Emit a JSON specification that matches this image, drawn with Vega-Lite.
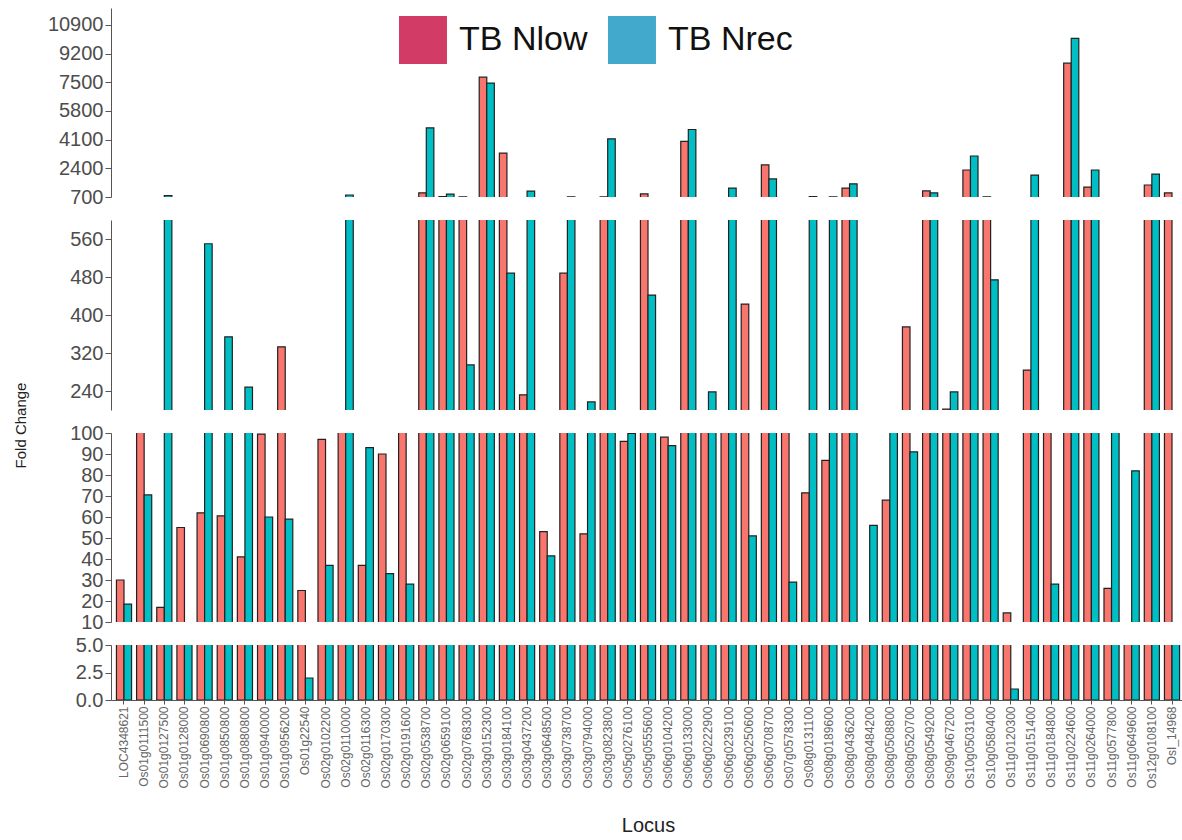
{
  "$schema": "https://vega.github.io/schema/vega-lite/v6.json",
  "padding": {"left": 13, "top": 8, "right": 0, "bottom": 5},
  "spacing": 23,
  "bounds": "flush",
  "config": {
    "view": {"stroke": null},
    "font": "Liberation Sans",
    "axis": {"grid": false, "domainColor": "#555555", "tickColor": "#555555", "labelColor": "#4D4D4D", "labelFont": "Liberation Sans", "titleFont": "Liberation Sans"}
  },
  "data": {"values": [
    {"locus": "LOC4348621", "group": "TB Nlow", "value": 30}, {"locus": "LOC4348621", "group": "TB Nrec", "value": 18.5},
    {"locus": "Os01g0111500", "group": "TB Nlow", "value": 150}, {"locus": "Os01g0111500", "group": "TB Nrec", "value": 70.5},
    {"locus": "Os01g0127500", "group": "TB Nlow", "value": 17}, {"locus": "Os01g0127500", "group": "TB Nrec", "value": 780},
    {"locus": "Os01g0128000", "group": "TB Nlow", "value": 55}, {"locus": "Os01g0128000", "group": "TB Nrec", "value": 7},
    {"locus": "Os01g0690800", "group": "TB Nlow", "value": 62}, {"locus": "Os01g0690800", "group": "TB Nrec", "value": 550},
    {"locus": "Os01g0850800", "group": "TB Nlow", "value": 60.5}, {"locus": "Os01g0850800", "group": "TB Nrec", "value": 354},
    {"locus": "Os01g0880800", "group": "TB Nlow", "value": 41}, {"locus": "Os01g0880800", "group": "TB Nrec", "value": 248},
    {"locus": "Os01g0940000", "group": "TB Nlow", "value": 99.5}, {"locus": "Os01g0940000", "group": "TB Nrec", "value": 60},
    {"locus": "Os01g0956200", "group": "TB Nlow", "value": 333}, {"locus": "Os01g0956200", "group": "TB Nrec", "value": 59},
    {"locus": "Os01g22540", "group": "TB Nlow", "value": 25}, {"locus": "Os01g22540", "group": "TB Nrec", "value": 2},
    {"locus": "Os02g0102200", "group": "TB Nlow", "value": 97}, {"locus": "Os02g0102200", "group": "TB Nrec", "value": 37},
    {"locus": "Os02g0110000", "group": "TB Nlow", "value": 150}, {"locus": "Os02g0110000", "group": "TB Nrec", "value": 820},
    {"locus": "Os02g0116300", "group": "TB Nlow", "value": 37}, {"locus": "Os02g0116300", "group": "TB Nrec", "value": 93},
    {"locus": "Os02g0170300", "group": "TB Nlow", "value": 90}, {"locus": "Os02g0170300", "group": "TB Nrec", "value": 33},
    {"locus": "Os02g0191600", "group": "TB Nlow", "value": 150}, {"locus": "Os02g0191600", "group": "TB Nrec", "value": 28},
    {"locus": "Os02g0538700", "group": "TB Nlow", "value": 950}, {"locus": "Os02g0538700", "group": "TB Nrec", "value": 4800},
    {"locus": "Os02g0659100", "group": "TB Nlow", "value": 720}, {"locus": "Os02g0659100", "group": "TB Nrec", "value": 870},
    {"locus": "Os02g0768300", "group": "TB Nlow", "value": 705}, {"locus": "Os02g0768300", "group": "TB Nrec", "value": 295},
    {"locus": "Os03g0152300", "group": "TB Nlow", "value": 7800}, {"locus": "Os03g0152300", "group": "TB Nrec", "value": 7450},
    {"locus": "Os03g0184100", "group": "TB Nlow", "value": 3300}, {"locus": "Os03g0184100", "group": "TB Nrec", "value": 488},
    {"locus": "Os03g0437200", "group": "TB Nlow", "value": 232}, {"locus": "Os03g0437200", "group": "TB Nrec", "value": 1050},
    {"locus": "Os03g0648500", "group": "TB Nlow", "value": 53}, {"locus": "Os03g0648500", "group": "TB Nrec", "value": 41.5},
    {"locus": "Os03g0738700", "group": "TB Nlow", "value": 488}, {"locus": "Os03g0738700", "group": "TB Nrec", "value": 710},
    {"locus": "Os03g0794000", "group": "TB Nlow", "value": 52}, {"locus": "Os03g0794000", "group": "TB Nrec", "value": 217},
    {"locus": "Os03g0823800", "group": "TB Nlow", "value": 705}, {"locus": "Os03g0823800", "group": "TB Nrec", "value": 4150},
    {"locus": "Os05g0276100", "group": "TB Nlow", "value": 96}, {"locus": "Os05g0276100", "group": "TB Nrec", "value": 99.8},
    {"locus": "Os05g0555600", "group": "TB Nlow", "value": 880}, {"locus": "Os05g0555600", "group": "TB Nrec", "value": 442},
    {"locus": "Os06g0104200", "group": "TB Nlow", "value": 98}, {"locus": "Os06g0104200", "group": "TB Nrec", "value": 94},
    {"locus": "Os06g0133000", "group": "TB Nlow", "value": 4000}, {"locus": "Os06g0133000", "group": "TB Nrec", "value": 4700},
    {"locus": "Os06g0222900", "group": "TB Nlow", "value": 150}, {"locus": "Os06g0222900", "group": "TB Nrec", "value": 238},
    {"locus": "Os06g0239100", "group": "TB Nlow", "value": 150}, {"locus": "Os06g0239100", "group": "TB Nrec", "value": 1230},
    {"locus": "Os06g0250600", "group": "TB Nlow", "value": 423}, {"locus": "Os06g0250600", "group": "TB Nrec", "value": 51},
    {"locus": "Os06g0708700", "group": "TB Nlow", "value": 2600}, {"locus": "Os06g0708700", "group": "TB Nrec", "value": 1770},
    {"locus": "Os07g0578300", "group": "TB Nlow", "value": 150}, {"locus": "Os07g0578300", "group": "TB Nrec", "value": 29},
    {"locus": "Os08g0131100", "group": "TB Nlow", "value": 71.5}, {"locus": "Os08g0131100", "group": "TB Nrec", "value": 720},
    {"locus": "Os08g0189600", "group": "TB Nlow", "value": 87}, {"locus": "Os08g0189600", "group": "TB Nrec", "value": 705},
    {"locus": "Os08g0436200", "group": "TB Nlow", "value": 1230}, {"locus": "Os08g0436200", "group": "TB Nrec", "value": 1480},
    {"locus": "Os08g0484200", "group": "TB Nlow", "value": 7}, {"locus": "Os08g0484200", "group": "TB Nrec", "value": 56},
    {"locus": "Os08g0508800", "group": "TB Nlow", "value": 68}, {"locus": "Os08g0508800", "group": "TB Nrec", "value": 150},
    {"locus": "Os08g0520700", "group": "TB Nlow", "value": 375}, {"locus": "Os08g0520700", "group": "TB Nrec", "value": 91},
    {"locus": "Os08g0549200", "group": "TB Nlow", "value": 1060}, {"locus": "Os08g0549200", "group": "TB Nrec", "value": 940},
    {"locus": "Os09g0467200", "group": "TB Nlow", "value": 202}, {"locus": "Os09g0467200", "group": "TB Nrec", "value": 238},
    {"locus": "Os10g0503100", "group": "TB Nlow", "value": 2300}, {"locus": "Os10g0503100", "group": "TB Nrec", "value": 3130},
    {"locus": "Os10g0580400", "group": "TB Nlow", "value": 705}, {"locus": "Os10g0580400", "group": "TB Nrec", "value": 474},
    {"locus": "Os11g0120300", "group": "TB Nlow", "value": 14.3}, {"locus": "Os11g0120300", "group": "TB Nrec", "value": 1},
    {"locus": "Os11g0151400", "group": "TB Nlow", "value": 284}, {"locus": "Os11g0151400", "group": "TB Nrec", "value": 2000},
    {"locus": "Os11g0184800", "group": "TB Nlow", "value": 150}, {"locus": "Os11g0184800", "group": "TB Nrec", "value": 28},
    {"locus": "Os11g0224600", "group": "TB Nlow", "value": 8630}, {"locus": "Os11g0224600", "group": "TB Nrec", "value": 10100},
    {"locus": "Os11g0264000", "group": "TB Nlow", "value": 1290}, {"locus": "Os11g0264000", "group": "TB Nrec", "value": 2300},
    {"locus": "Os11g0577800", "group": "TB Nlow", "value": 26}, {"locus": "Os11g0577800", "group": "TB Nrec", "value": 150},
    {"locus": "Os11g0649600", "group": "TB Nlow", "value": 7}, {"locus": "Os11g0649600", "group": "TB Nrec", "value": 82},
    {"locus": "Os12g0108100", "group": "TB Nlow", "value": 1410}, {"locus": "Os12g0108100", "group": "TB Nrec", "value": 2060},
    {"locus": "OsI_14968", "group": "TB Nlow", "value": 940}, {"locus": "OsI_14968", "group": "TB Nrec", "value": 7}
  ]},
  "vconcat": [
    {
      "width": 1074, "height": 189,
      "encoding": {
        "x": {"field": "locus", "type": "nominal", "sort": null, "scale": {"paddingInner": 0.25, "paddingOuter": 0.27}, "axis": null},
        "xOffset": {"field": "group", "type": "nominal", "scale": {"paddingInner": 0}},
        "y": {"field": "value", "type": "quantitative", "scale": {"domain": [700, 11900], "nice": false, "zero": false}, "axis": {"values": [700, 2400, 4100, 5800, 7500, 9200, 10900], "format": "d", "title": null, "labelFontSize": 20, "tickSize": 6}}
      },
      "layer": [
        {
          "mark": {"type": "square", "clip": true, "opacity": 0, "size": 4, "filled": true},
          "encoding": {
            "fill": {"field": "group", "type": "nominal", "scale": {"domain": ["TB Nlow", "TB Nrec"], "range": ["#D23B66", "#42A8CC"]},
              "legend": {"orient": "none", "legendX": 288, "legendY": 8, "direction": "horizontal", "title": null, "symbolType": "square", "symbolSize": 2300, "symbolStrokeWidth": 0, "symbolOpacity": 1, "labelFontSize": 34, "labelFont": "Liberation Sans", "labelColor": "#111111", "labelOffset": 12, "columnPadding": 20, "labelLimit": 300}}
          }
        },
        {
          "mark": {"type": "bar", "clip": true, "stroke": "#222222", "strokeWidth": 1.2},
          "encoding": {
            "y2": {"datum": 0},
            "color": {"field": "group", "type": "nominal", "scale": {"domain": ["TB Nlow", "TB Nrec"], "range": ["#F8766D", "#00BFC4"]}, "legend": null}
          }
        }
      ]
    },
    {
      "width": 1074, "height": 190,
      "mark": {"type": "bar", "clip": true, "stroke": "#222222", "strokeWidth": 1.2},
      "encoding": {
        "x": {"field": "locus", "type": "nominal", "sort": null, "scale": {"paddingInner": 0.25, "paddingOuter": 0.27}, "axis": null},
        "xOffset": {"field": "group", "type": "nominal", "scale": {"paddingInner": 0}},
        "y": {"field": "value", "type": "quantitative", "scale": {"domain": [200, 600], "nice": false, "zero": false}, "axis": {"values": [240, 320, 400, 480, 560], "title": null, "labelFontSize": 20, "tickSize": 6}},
        "y2": {"datum": 0},
        "color": {"field": "group", "type": "nominal", "scale": {"domain": ["TB Nlow", "TB Nrec"], "range": ["#F8766D", "#00BFC4"]}, "legend": null}
      }
    },
    {
      "width": 1074, "height": 189,
      "mark": {"type": "bar", "clip": true, "stroke": "#222222", "strokeWidth": 1.2},
      "encoding": {
        "x": {"field": "locus", "type": "nominal", "sort": null, "scale": {"paddingInner": 0.25, "paddingOuter": 0.27}, "axis": null},
        "xOffset": {"field": "group", "type": "nominal", "scale": {"paddingInner": 0}},
        "y": {"field": "value", "type": "quantitative", "scale": {"domain": [10, 100], "nice": false, "zero": false}, "axis": {"values": [10, 20, 30, 40, 50, 60, 70, 80, 90, 100], "title": "Fold Change", "titleFontSize": 15, "titleFontWeight": "normal", "titleColor": "#222222", "titleX": -83, "titleY": -8, "labelFontSize": 20, "tickSize": 6}},
        "y2": {"datum": 0},
        "color": {"field": "group", "type": "nominal", "scale": {"domain": ["TB Nlow", "TB Nrec"], "range": ["#F8766D", "#00BFC4"]}, "legend": null}
      }
    },
    {
      "width": 1074, "height": 55,
      "mark": {"type": "bar", "clip": true, "stroke": "#222222", "strokeWidth": 1.2},
      "encoding": {
        "x": {"field": "locus", "type": "nominal", "sort": null, "scale": {"paddingInner": 0.25, "paddingOuter": 0.27}, "axis": {"title": "Locus", "titleFontSize": 20, "titleFontWeight": "normal", "titleColor": "#222222", "titlePadding": 27, "labelAngle": -90, "labelFontSize": 12, "labelColor": "#666666", "tickSize": 4}},
        "xOffset": {"field": "group", "type": "nominal", "scale": {"paddingInner": 0}},
        "y": {"field": "value", "type": "quantitative", "scale": {"domain": [0, 5], "nice": false}, "axis": {"values": [0, 2.5, 5], "format": ".1f", "title": null, "labelFontSize": 20, "tickSize": 6}},
        "color": {"field": "group", "type": "nominal", "scale": {"domain": ["TB Nlow", "TB Nrec"], "range": ["#F8766D", "#00BFC4"]}, "legend": null}
      }
    }
  ]
}
